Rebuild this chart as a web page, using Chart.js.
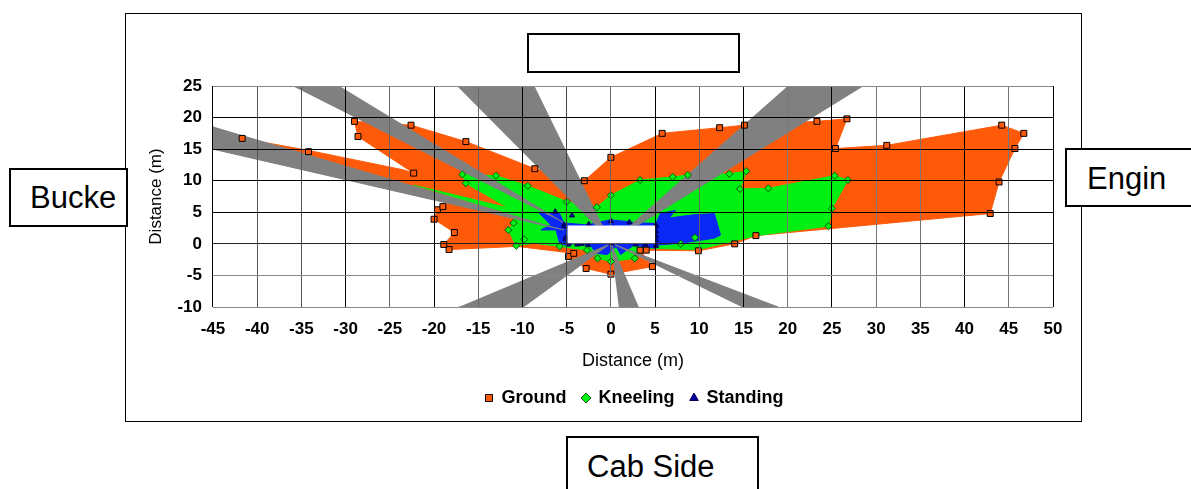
<!DOCTYPE html>
<html>
<head>
<meta charset="utf-8">
<script src="https://cdn.jsdelivr.net/npm/chart.js@4/dist/chart.umd.min.js"></script>
<style>
  html, body { margin: 0; padding: 0; background: #fff; overflow: hidden; }
  #wrap { position: relative; width: 1191px; height: 489px; font-family: "Liberation Sans", Arial, sans-serif; }
  #frame { position: absolute; left: 125px; top: 13px; width: 955px; height: 407px; border: 1px solid #000; }
  canvas { position: absolute; left: 0; top: 0; }
  .note { position: absolute; box-sizing: border-box; background: #fff; border: 2px solid #000; font-size: 31px; line-height: 1; white-space: nowrap; overflow: hidden; }
</style>
</head>
<body>
<div id="wrap">
  <div id="frame"></div>
  <canvas id="myChart" width="1191" height="489"></canvas>
  <div class="note" style="left:527px;top:33px;width:213px;height:40px"></div>
  <div class="note" style="left:9px;top:168px;width:119px;height:59px;padding:12px 0 0 19px">Bucke</div>
  <div class="note" style="left:1065px;top:148px;width:130px;height:59px;padding:13px 0 0 20px">Engin</div>
  <div class="note" style="left:566px;top:436px;width:193px;height:60px;padding:13px 0 0 19px">Cab Side</div>
</div>
<script>
const xTicks = [-45, -40, -35, -30, -25, -20, -15, -10, -5, 0, 5, 10, 15, 20, 25, 30, 35, 40, 45, 50];
const yTicks = [-10, -5, 0, 5, 10, 15, 20, 25];

// outlines of the three zones, [x, y] in metres
const groundEdge = [[-41.7,16.7],[-34.2,14.8],[-23.4,11.7],[-22.3,11.2],[-28.6,17],[-29,19.4],[-22.6,18.8],[-16.4,16.2],[-8.6,11.9],[-3,10],[0,13.7],[5.8,17.5],[12.3,18.4],[15.1,18.8],[23.3,19.4],[26.7,19.8],[25.4,15.1],[31.2,15.6],[44.2,18.8],[46.7,17.5],[45.7,15.1],[43.9,9.8],[42.9,4.8],[16.4,1.3],[14,0],[9.9,-1.1],[4,-1],[3.3,-1],[4.7,-3.6],[0,-4.8],[-2.8,-3.9],[-4.8,-2],[-4.2,-1.5],[-10.6,-0.4],[-18.3,-0.9],[-18.9,-0.1],[-17.7,1.8],[-20,3.9],[-19.6,5.4],[-19,5.9],[-18,7]];
const kneelingEdge = [[-22.3,9.3],[-11.6,5.7],[-16.4,9.6],[-16.8,11],[-13,10.8],[-9.4,9.2],[-5,6.7],[-1.6,5.8],[0,7.7],[3.3,10.1],[7,10.6],[8.7,10.9],[13.4,11.1],[15.3,11.5],[14.6,8.7],[17.8,8.8],[25.3,10.8],[26.8,10.1],[25,5.6],[24.6,2.8],[16.4,1.3],[9.9,-0.9],[4,-0.7],[2.7,-2.3],[0,-2.8],[-1.5,-2.3],[-2.7,-1],[-5.8,-0.4],[-8.7,0.1],[-10.7,-0.3],[-11.6,2.2],[-11,3.3],[-11,4.5]];
const standingEdge = [[5.1,3.3],[5.6,4.8],[7.3,5.3],[6.6,4.1],[9.4,4.6],[11.7,4.8],[12.4,1.4],[11.7,0.9],[7.9,0.1],[5.3,-0.2],[5.1,-0.7],[2.6,-0.2],[1.1,-1.7],[0.6,-0.4],[-0.4,-1.7],[-1.7,-1.5],[-2.3,-0.2],[-3.8,0.1],[-5.1,-0.2],[-5.8,0.1],[-6.2,2.2],[-7.9,2.2],[-6.8,3],[-8.2,5],[-5.8,4.8],[-5.3,3.3],[-2.6,3],[-1.1,3.5],[0,3.8],[2.1,3.5]];

// markers actually plotted on the chart
const groundPoints = [[-41.7,16.7],[-34.2,14.6],[-22.3,11.2],[-28.6,17],[-29,19.4],[-22.6,18.8],[-16.4,16.2],[-8.6,11.9],[-3,10],[0,13.7],[5.8,17.5],[12.3,18.4],[15.1,18.8],[23.3,19.4],[26.7,19.8],[25.4,15.1],[31.2,15.6],[44.2,18.8],[46.7,17.5],[45.7,15.1],[43.9,9.8],[42.9,4.8],[16.4,1.3],[14,0],[9.9,-1.1],[4,-1],[3.3,-1],[4.7,-3.6],[0,-4.8],[-2.8,-3.9],[-4.8,-2],[-4.2,-1.5],[-18.3,-0.9],[-18.9,-0.1],[-17.7,1.8],[-20,3.9],[-19.6,5.4],[-19,5.9]];
const kneelingPoints = [[-16.4,9.6],[-16.8,11],[-13,10.8],[-9.4,9.2],[-5,6.7],[-1.6,5.8],[0,7.7],[3.3,10.1],[7,10.6],[8.7,10.9],[13.4,11.1],[15.3,11.5],[14.6,8.7],[17.8,8.8],[25.3,10.8],[26.8,10.1],[25,5.6],[24.6,2.8],[9.5,1],[7.9,0],[2.7,-2.3],[0,-2.8],[-1.5,-2.3],[-2.7,-1],[-5.8,-0.4],[-10.7,-0.3],[-9.8,0.7],[-11.6,2.2],[-11,3.3]];
const standingPoints = [[-6.3,5.1],[-4.4,4.5],[-2.5,3.1],[0,3.6],[2.1,3.4],[-2.6,-0.2],[2.8,-0.1],[3.9,-0.1],[5.1,-0.3],[-5.3,3],[-5.2,2.8],[-5.1,1],[-5.1,0.7],[5.1,3],[5.1,2.8],[5.1,2],[5.1,1.3],[5.1,0.6],[-4.8,-0.1],[-3.8,-0.1],[-3.3,0],[0,0.2],[0.1,0.1]];

// blind zones, grey wedges
const blindA = [[-36,25],[-30.8,25],[-5.3,3.3]];
const blindB = [[-45,18.6],[-45,15],[-5.3,2.2]];
const blindC = [[-17.4,25],[-8.7,25],[-1,3],[-1.8,3]];
const blindD = [[-17.2,-10],[-9.9,-10],[0,0.1]];
const blindE = [[0.9,-10],[3.1,-10],[0,0.1]];
const blindF = [[14.8,-10],[18.9,-10],[0,0.1]];
const blindG = [[20,25],[28.5,25],[3.1,3],[2.2,3]];

// the machine itself, left blank
const machine = [[-4.9,0.1],[5,0.1],[5,2.9],[-4.9,2.9]];

const orange = "#ff5a0a";
const green = "#00f014";
const blue = "#0a28f5";
const grey = "#808080";

function toXY(list) {
  return list.map(p => ({x: p[0], y: p[1]}));
}

function zone(list, color, order) {
  return {data: toXY(list), showLine: true, fill: "shape", backgroundColor: color, borderColor: color, borderWidth: 1, pointRadius: 0, order: order};
}

function marks(label, list, color, edge, style, size, order) {
  return {label: label, data: toXY(list), showLine: false, backgroundColor: color, borderColor: edge, borderWidth: 1, pointStyle: style, pointRadius: size, order: order};
}

// gridlines came out of the resize with uneven weight
const xGrid = ["#000","#555","#555","#000","#666","#000","#666","#000","#444","#666","#000","#666","#000","#777","#000","#777","#777","#000","#777","#000"];
const yGrid = ["#888","#888","#222","#000","#000","#000","#000","#888"];

// white box on top of everything, drawn through the scales; legend sits under the plot, not the canvas
const machinePlugin = {
  id: "machine",
  afterLayout(chart) {
    chart.legend.left += 35;
    chart.legend.right += 35;
    chart.legend.top += 3;
    chart.legend.bottom += 3;
  },
  afterDraw(chart) {
    const {ctx, scales} = chart;
    ctx.save();
    ctx.fillStyle = "#fff";
    ctx.beginPath();
    machine.forEach((p, i) => {
      const px = scales.x.getPixelForValue(p[0]);
      const py = scales.y.getPixelForValue(p[1]);
      if (i === 0) ctx.moveTo(px, py); else ctx.lineTo(px, py);
    });
    ctx.closePath();
    ctx.fill();
    ctx.restore();
  }
};

new Chart("myChart", {
  type: "scatter",
  data: {
    datasets: [
      marks("Ground", groundPoints, orange, "#000", "rect", 4.2, 1),
      marks("Kneeling", kneelingPoints, green, "#0a5a14", "rectRot", 3.6, 2),
      marks("Standing", standingPoints, "#0000a0", "#000050", "triangle", 3, 3),
      zone(blindA, grey, 4),
      zone(blindB, grey, 4),
      zone(blindC, grey, 4),
      zone(blindD, grey, 4),
      zone(blindE, grey, 4),
      zone(blindF, grey, 4),
      zone(blindG, grey, 4),
      zone(standingEdge, blue, 5),
      zone(kneelingEdge, green, 6),
      zone(groundEdge, orange, 7)
    ]
  },
  plugins: [machinePlugin],
  options: {
    responsive: false,
    animation: false,
    layout: {padding: {left: 146, right: 138, top: 86, bottom: 75}},
    plugins: {
      tooltip: {enabled: false},
      legend: {
        position: "bottom",
        labels: {
          filter: item => item.text !== undefined,
          usePointStyle: true,
          boxWidth: 7,
          boxHeight: 7,
          padding: 16,
          color: "#000",
          font: {family: "Liberation Sans", size: 18, weight: "bold"}
        }
      }
    },
    scales: {
      x: {
        type: "linear",
        min: -45,
        max: 50,
        afterBuildTicks: axis => { axis.ticks = xTicks.map(v => ({value: v})); },
        title: {display: true, text: "Distance (m)", color: "#000", font: {family: "Liberation Sans", size: 18, lineHeight: 1}, padding: {top: 0, bottom: 0}},
        grid: {z: 1, drawTicks: false, color: ctx => xGrid[ctx.index], lineWidth: 1},
        border: {display: false},
        ticks: {color: "#000", maxRotation: 0, autoSkip: false, padding: 14, font: {family: "Liberation Sans", size: 17, weight: "bold", lineHeight: 1}}
      },
      y: {
        type: "linear",
        min: -10,
        max: 25,
        afterBuildTicks: axis => { axis.ticks = yTicks.map(v => ({value: v})); },
        title: {display: true, text: "Distance (m)", color: "#000", font: {family: "Liberation Sans", size: 17}, padding: {top: 0, bottom: 0}},
        grid: {z: 1, drawTicks: false, color: ctx => yGrid[ctx.index], lineWidth: 1},
        border: {display: false},
        ticks: {color: "#000", autoSkip: false, padding: 11, font: {family: "Liberation Sans", size: 17, weight: "bold"}}
      }
    }
  }
});
</script>
</body>
</html>
